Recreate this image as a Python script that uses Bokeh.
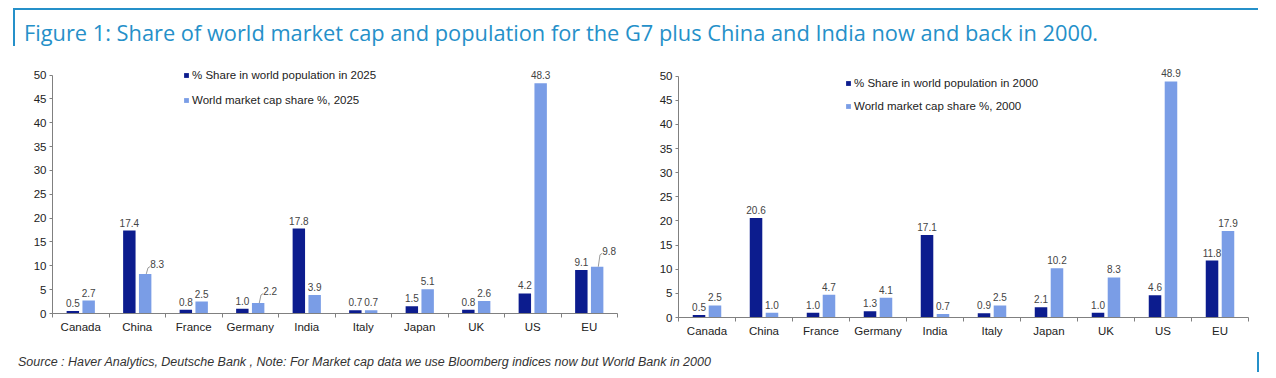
from bokeh.plotting import figure
from bokeh.models import Range1d, FixedTicker, Legend, LegendItem, Div
from bokeh.layouts import column, row
from bokeh.embed import file_html
from bokeh.resources import INLINE
from bokeh.core.properties import value

categories = ["Canada", "China", "France", "Germany", "India", "Italy", "Japan", "UK", "US", "EU"]
pop_2025 = [0.5, 17.4, 0.8, 1.0, 17.8, 0.7, 1.5, 0.8, 4.2, 9.1]
mcap_2025 = [2.7, 8.3, 2.5, 2.2, 3.9, 0.7, 5.1, 2.6, 48.3, 9.8]
pop_2000 = [0.5, 20.6, 1.0, 1.3, 17.1, 0.9, 2.1, 1.0, 4.6, 11.8]
mcap_2000 = [2.5, 1.0, 4.7, 4.1, 0.7, 2.5, 10.2, 8.3, 48.9, 17.9]
y_ticks = [0, 5, 10, 15, 20, 25, 30, 35, 40, 45, 50]
legend_2025 = ["% Share in world population in 2025", "World market cap share %, 2025"]
legend_2000 = ["% Share in world population in 2000", "World market cap share %, 2000"]
title_text = "Figure 1: Share of world market cap and population for the G7 plus China and India now and back in 2000."
source_text = "Source : Haver Analytics, Deutsche Bank , Note: For Market cap data we use Bloomberg indices now but World Bank in 2000"

DARK = "#0c1c8e"
LIGHT = "#7a9de6"
BLUE = "#2590c9"
FONT = "Liberation Sans"


def make_chart(pop, mcap, labels, width, height, bl, br, bt, bb, leg_xy, leg_spacing, leaders):
    n = len(categories)
    p = figure(width=width, height=height, output_backend="svg", toolbar_location=None,
               x_range=Range1d(-0.5, n - 0.5), y_range=Range1d(0, 52),
               min_border_left=bl, min_border_right=br, min_border_top=bt, min_border_bottom=bb)
    p.frame_align = False
    p.outline_line_color = None
    p.xgrid.visible = False
    p.ygrid.visible = False
    p.background_fill_color = "white"
    p.border_fill_color = "white"

    idx = list(range(n))
    xd = [i - 0.14 for i in idx]
    xl = [i + 0.14 for i in idx]
    r1 = p.vbar(x=xd, top=pop, width=0.22, color=DARK, line_color=None)
    r2 = p.vbar(x=xl, top=mcap, width=0.22, color=LIGHT, line_color=None)

    # data labels
    p.text(x=xd, y=pop, text=["%.1f" % v for v in pop], text_align="center",
           text_baseline="middle", y_offset=-8, text_font=value(FONT),
           text_font_size="10px", text_color="#444444")
    xo = [12 if c in leaders else 0 for c in categories]
    yo = [-leaders.get(c, 8) for c in categories]
    p.text(x=xl, y=mcap, text=["%.1f" % v for v in mcap], text_align="center",
           text_baseline="middle", x_offset=xo, y_offset=yo, text_font=value(FONT),
           text_font_size="10px", text_color="#444444")
    # leader lines
    for i, c in enumerate(categories):
        if c in leaders:
            rise = (leaders[c] - 4) * 50.0 / 238
            p.line(x=[xl[i] + 0.02, xl[i] + 0.05, xl[i] + 0.09],
                   y=[mcap[i], mcap[i] + rise, mcap[i] + rise + 0.3],
                   line_color="#9a9a9a", line_width=1)

    # y axis
    ya = p.yaxis[0]
    ya.ticker = FixedTicker(ticks=y_ticks)
    ya.bounds = (0, 50)
    ya.axis_line_color = "#808080"
    ya.major_tick_line_color = "#808080"
    ya.major_tick_out = 3
    ya.major_tick_in = 0
    ya.minor_tick_line_color = None
    ya.major_label_standoff = 3
    ya.major_label_text_font = FONT
    ya.major_label_text_font_size = "11.5px"
    ya.major_label_text_color = "#222222"

    # x axis
    xa = p.xaxis[0]
    xa.ticker = FixedTicker(ticks=idx, minor_ticks=[i - 0.5 for i in range(n + 1)])
    xa.major_label_overrides = {i: c for i, c in enumerate(categories)}
    xa.axis_line_color = "#808080"
    xa.major_tick_line_color = None
    xa.major_tick_out = 0
    xa.major_tick_in = 0
    xa.minor_tick_line_color = "#808080"
    xa.minor_tick_out = 4
    xa.minor_tick_in = 0
    xa.major_label_standoff = 3
    xa.major_label_text_font = FONT
    xa.major_label_text_font_size = "11.5px"
    xa.major_label_text_color = "#222222"

    leg = Legend(items=[LegendItem(label=labels[0], renderers=[r1]),
                        LegendItem(label=labels[1], renderers=[r2])],
                 location=leg_xy, orientation="vertical",
                 glyph_width=6, glyph_height=6, label_height=12, label_standoff=3,
                 spacing=leg_spacing, padding=0, margin=0,
                 border_line_color=None, background_fill_alpha=0,
                 label_text_font=FONT, label_text_font_size="11.5px",
                 label_text_color="#222222")
    p.add_layout(leg, "center")
    return p


p1 = make_chart(pop_2025, mcap_2025, legend_2025, 630, 289, 52, 13, 9, 32,
                (131, 207), 13, {"China": 10, "Germany": 12, "EU": 16})
p2 = make_chart(pop_2000, mcap_2000, legend_2000, 646, 289, 48, 28, 10, 28,
                (167, 205), 11, {})

title_html = (
    '<div style="position:relative;width:1276px;height:56px;">'
    '<div style="position:absolute;left:13px;top:8px;width:1245px;height:0;border-top:2px solid %s;"></div>'
    '<div style="position:absolute;left:13px;top:8px;width:0;height:38px;border-left:2px solid %s;"></div>'
    '<div style="position:absolute;left:24px;top:20px;font-family:\'Open Sans\';font-size:21.8px;'
    'color:%s;white-space:nowrap;line-height:26px;">%s</div></div>'
) % (BLUE, BLUE, BLUE, title_text)
title_div = Div(text=title_html, width=1276, height=56, margin=0)

source_html = (
    '<div style="position:relative;width:1276px;height:33px;">'
    '<div style="position:absolute;left:18px;top:9px;font-family:\'Liberation Sans Narrow\',\'Liberation Sans\';'
    'font-style:italic;font-size:12.5px;color:#333333;white-space:nowrap;line-height:16px;">%s</div>'
    '<div style="position:absolute;left:1257px;top:7px;width:0;height:20px;border-left:2px solid %s;"></div>'
    '</div>'
) % (source_text, BLUE)
source_div = Div(text=source_html, width=1276, height=33, margin=0)

layout = column(title_div, row(p1, p2, spacing=0), source_div, spacing=0)

open("out.html", "w").write(file_html(layout, INLINE))
